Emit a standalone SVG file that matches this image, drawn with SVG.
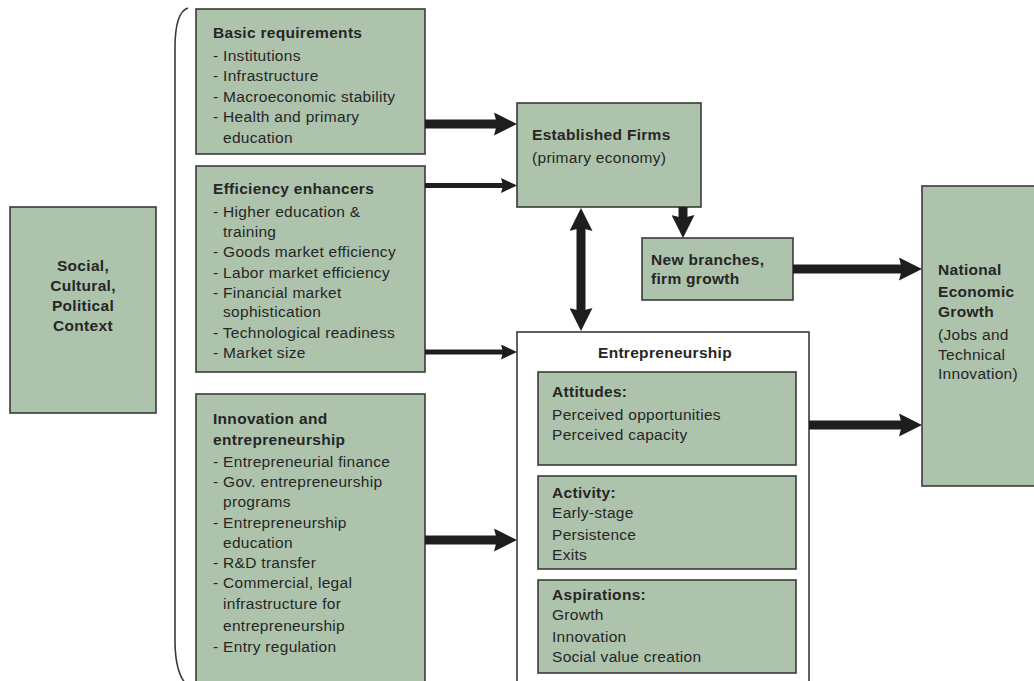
<svg xmlns="http://www.w3.org/2000/svg" width="1034" height="681" viewBox="0 0 1034 681">
<style>
  .box { fill: #adc3ac; stroke: #3a3a3a; stroke-width: 1.6; }
  .wbox { fill: #ffffff; stroke: #3a3a3a; stroke-width: 1.6; }
  text { font-family: "Liberation Sans", Arial, sans-serif; font-size: 15.5px; fill: #262626; letter-spacing: 0.3px; }
  .b { font-weight: bold; }
  .thick { stroke: #1e1e1e; stroke-width: 9; fill: none; }
  .thin { stroke: #1e1e1e; stroke-width: 5; fill: none; }
</style>
<defs>
  <marker id="headThick" markerUnits="userSpaceOnUse" viewBox="0 0 23 23" refX="8" refY="11.5" markerWidth="23" markerHeight="23" orient="auto-start-reverse">
    <path d="M0,0 L23,11.5 L0,23 L3,11.5 Z" fill="#1e1e1e"/>
  </marker>
  <marker id="headThin" markerUnits="userSpaceOnUse" viewBox="0 0 16 15" refX="6" refY="7.5" markerWidth="16" markerHeight="15" orient="auto">
    <path d="M0,0 L16,7.5 L0,15 L2,7.5 Z" fill="#1e1e1e"/>
  </marker>
</defs>
<rect width="1034" height="681" fill="#ffffff"/>

<g id="bracket">
  <path d="M188,8 Q175,12 175,48 L175,640 Q175,672 186,684" fill="none" stroke="#3a3a3a" stroke-width="1.6"/>
</g>

<g id="social">
  <rect class="box" x="10" y="207" width="146" height="206"/>
  <text class="b" x="83" y="271" text-anchor="middle">Social,</text>
  <text class="b" x="83" y="291" text-anchor="middle">Cultural,</text>
  <text class="b" x="83" y="311" text-anchor="middle">Political</text>
  <text class="b" x="83" y="331" text-anchor="middle">Context</text>
</g>

<g id="basic">
  <rect class="box" x="196" y="9" width="229" height="145"/>
  <text class="b" x="213" y="38">Basic requirements</text>
  <text x="213" y="61">- Institutions</text>
  <text x="213" y="81">- Infrastructure</text>
  <text x="213" y="102">- Macroeconomic stability</text>
  <text x="213" y="122">- Health and primary</text>
  <text x="223" y="143">education</text>
</g>

<g id="efficiency">
  <rect class="box" x="196" y="166" width="229" height="206"/>
  <text class="b" x="213" y="194">Efficiency enhancers</text>
  <text x="213" y="217">- Higher education &amp;</text>
  <text x="223" y="237">training</text>
  <text x="213" y="257">- Goods market efficiency</text>
  <text x="213" y="278">- Labor market efficiency</text>
  <text x="213" y="298">- Financial market</text>
  <text x="223" y="317">sophistication</text>
  <text x="213" y="338">- Technological readiness</text>
  <text x="213" y="358">- Market size</text>
</g>

<g id="innovation">
  <rect class="box" x="196" y="394" width="229" height="300"/>
  <text class="b" x="213" y="424">Innovation and</text>
  <text class="b" x="213" y="445">entrepreneurship</text>
  <text x="213" y="467">- Entrepreneurial finance</text>
  <text x="213" y="487">- Gov. entrepreneurship</text>
  <text x="223" y="507">programs</text>
  <text x="213" y="528">- Entrepreneurship</text>
  <text x="223" y="548">education</text>
  <text x="213" y="568">- R&amp;D transfer</text>
  <text x="213" y="588">- Commercial, legal</text>
  <text x="223" y="609">infrastructure for</text>
  <text x="223" y="631">entrepreneurship</text>
  <text x="213" y="652">- Entry regulation</text>
</g>

<g id="established">
  <rect class="box" x="517" y="103" width="184" height="104"/>
  <text class="b" x="532" y="140">Established Firms</text>
  <text x="532" y="163">(primary economy)</text>
</g>

<g id="newbranches">
  <rect class="box" x="642" y="238" width="151" height="62"/>
  <text class="b" x="651" y="265">New branches,</text>
  <text class="b" x="651" y="284">firm growth</text>
</g>

<g id="national">
  <rect class="box" x="922" y="186" width="120" height="300"/>
  <text class="b" x="938" y="275">National</text>
  <text class="b" x="938" y="297">Economic</text>
  <text class="b" x="938" y="317">Growth</text>
  <text x="938" y="340">(Jobs and</text>
  <text x="938" y="360">Technical</text>
  <text x="938" y="379">Innovation)</text>
</g>

<g id="entrepreneurship">
  <rect class="wbox" x="517" y="332" width="292" height="360"/>
  <text class="b" x="665" y="358" text-anchor="middle">Entrepreneurship</text>
  <g id="attitudes">
    <rect class="box" x="538" y="372" width="258" height="93"/>
    <text class="b" x="552" y="397">Attitudes:</text>
    <text x="552" y="420">Perceived opportunities</text>
    <text x="552" y="440">Perceived capacity</text>
  </g>
  <g id="activity">
    <rect class="box" x="538" y="476" width="258" height="93"/>
    <text class="b" x="552" y="498">Activity:</text>
    <text x="552" y="518">Early-stage</text>
    <text x="552" y="540">Persistence</text>
    <text x="552" y="560">Exits</text>
  </g>
  <g id="aspirations">
    <rect class="box" x="538" y="580" width="258" height="93"/>
    <text class="b" x="552" y="600">Aspirations:</text>
    <text x="552" y="620">Growth</text>
    <text x="552" y="642">Innovation</text>
    <text x="552" y="662">Social value creation</text>
  </g>
</g>

<g id="connectors">
  <path class="thick" d="M425,124 L502,124" marker-end="url(#headThick)"/>
  <path class="thin" d="M425,185.5 L507,185.5" marker-end="url(#headThin)"/>
  <path class="thin" d="M425,352 L507,352" marker-end="url(#headThin)"/>
  <path class="thick" d="M425,540 L502,540" marker-end="url(#headThick)"/>
  <path class="thick" d="M581,223 L581,316" marker-start="url(#headThick)" marker-end="url(#headThick)"/>
  <path class="thick" d="M683,207 L683,223" marker-end="url(#headThick)"/>
  <path class="thick" d="M793,269 L907,269" marker-end="url(#headThick)"/>
  <path class="thick" d="M809,425 L907,425" marker-end="url(#headThick)"/>
</g>
</svg>
